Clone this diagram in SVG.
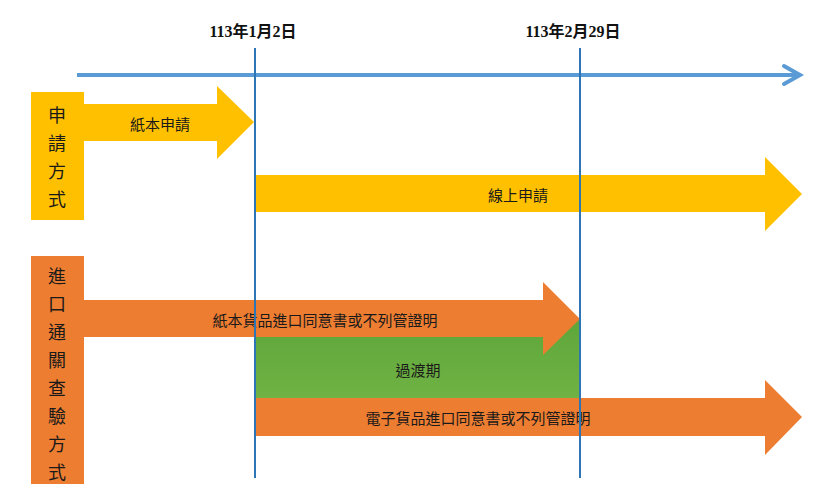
<svg xmlns="http://www.w3.org/2000/svg" width="830" height="490" viewBox="0 0 830 490">
<style>
.t{font-family:"Noto Sans CJK TC","Noto Sans CJK SC",serif;font-size:15px;fill:#1a1a1a;text-anchor:middle;dominant-baseline:central}
.v{font-family:"Noto Sans CJK TC","Noto Sans CJK SC",serif;font-size:18px;fill:#1a1a1a;text-anchor:middle;dominant-baseline:central}
.d{font-family:"Liberation Serif","Noto Sans CJK TC",serif;font-size:16px;font-weight:bold;fill:#111;text-anchor:middle}
.y{fill:#ffc000}
.o{fill:#ed7d31}
.vl{stroke:#2e75b6;stroke-width:2}
</style>
<defs>
<linearGradient id="g" x1="0" y1="0" x2="0" y2="1"><stop offset="0" stop-color="#5ea63a"/><stop offset="1" stop-color="#70b244"/></linearGradient>
</defs>
<rect width="830" height="490" fill="#fff"/>
<g id="timeline">
<line x1="77" y1="75" x2="798" y2="75" stroke="#5b9bd5" stroke-width="4"/>
<polyline points="784,66 800,75 784,84" fill="none" stroke="#5b9bd5" stroke-width="4" stroke-linecap="round"/>
</g>
<g id="transition">
<rect x="256" y="319" width="324" height="79" fill="url(#g)"/>
<text class="t" x="418" y="369">過渡期</text>
</g>
<g id="apply">
<rect class="y" x="31" y="92" width="53" height="128"/>
<text class="v" x="57" y="114">申</text><text class="v" x="57" y="142">請</text><text class="v" x="57" y="170">方</text><text class="v" x="57" y="198">式</text>
</g>
<g id="paper-apply">
<polygon class="y" points="84,104 217,104 217,86 254,122 217,159 217,141 84,141"/>
<text class="t" x="160" y="123">紙本申請</text>
</g>
<g id="online-apply">
<polygon class="y" points="256,175 765,175 765,157 802,194 765,231 765,212 256,212"/>
<text class="t" x="518" y="194">線上申請</text>
</g>
<g id="customs">
<rect class="o" x="31" y="256" width="53" height="228"/>
<text class="v" x="57" y="275">進</text><text class="v" x="57" y="303">口</text><text class="v" x="57" y="331">通</text><text class="v" x="57" y="359">關</text><text class="v" x="57" y="387">查</text><text class="v" x="57" y="415">驗</text><text class="v" x="57" y="443">方</text><text class="v" x="57" y="471">式</text>
</g>
<g id="paper-permit">
<polygon class="o" points="84,300 543,300 543,282 580,319 543,355 543,337 84,337"/>
<text class="t" x="325" y="319">紙本貨品進口同意書或不列管證明</text>
</g>
<g id="e-permit">
<polygon class="o" points="256,398 765,398 765,380 802,417 765,455 765,436 256,436"/>
<text class="t" x="478" y="417">電子貨品進口同意書或不列管證明</text>
</g>
<g id="dates">
<line class="vl" x1="255" y1="48" x2="255" y2="478"/>
<line class="vl" x1="580" y1="48" x2="580" y2="478"/>
<text class="d" x="253" y="37">113年1月2日</text>
<text class="d" x="573" y="37">113年2月29日</text>
</g>
</svg>
